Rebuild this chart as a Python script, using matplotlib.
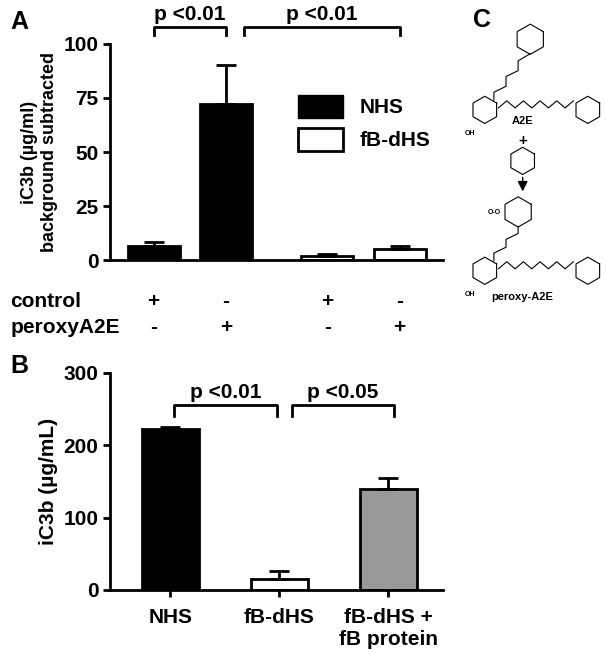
import numpy as np
from matplotlib import pyplot as plt

plt.rcParams['font.family'] = 'Liberation Sans'
plt.rcParams['font.weight'] = 'bold'
plt.rcParams['font.size'] = 15

# panel A
a_pos = [1, 2, 3.4, 4.4]
a_val = [6.5, 72, 2, 5]
a_err = [2, 18, 1, 1.5]
a_col = ['black', 'black', 'white', 'white']
a_control = ['+', '-', '+', '-']
a_peroxy = ['-', '+', '-', '+']
# panel B
b_names = ['NHS', 'fB-dHS', 'fB-dHS +\nfB protein']
b_val = [223, 15, 140]
b_err = [2, 11, 15]
b_col = ['black', 'white', '#999999']

fig = plt.figure(figsize=(6.06, 6.54), dpi=100)

def style(ax):
    for s in ['top', 'right']:
        ax.spines[s].set_visible(False)
    for s in ['left', 'bottom']:
        ax.spines[s].set_linewidth(2)
    ax.tick_params(width=2, length=5)

def bracket(ax, x1, x2, y, h, txt):
    ax.plot([x1, x1, x2, x2], [y - h, y, y, y - h], color='black', lw=2, clip_on=False)
    ax.text((x1 + x2) / 2, y + h * 0.3, txt, ha='center', va='bottom', fontsize=15, fontweight='bold')

ax = fig.add_axes([0.182, 0.602, 0.549, 0.331])
ax.bar(a_pos, a_val, width=0.72, color=a_col, edgecolor='black', lw=2)
for p, v, e in zip(a_pos, a_val, a_err):
    ax.errorbar(p, v, yerr=[[0], [e]], color='black', capsize=7, capthick=2, elinewidth=2)
ax.set_xlim(0.4, 5.0)
ax.set_ylim(0, 100)
ax.set_yticks([0, 25, 50, 75, 100])
ax.set_xticks([])
style(ax)
ax.set_ylabel('iC3b (\u00b5g/ml)\nbackground subtracted', fontsize=13, fontweight='bold')
bracket(ax, 1, 2, 108, 4, 'p <0.01')
bracket(ax, 2.25, 4.4, 108, 4, 'p <0.01')
ax.bar([0], [0], color='black', edgecolor='black', label='NHS')
ax.bar([0], [0], color='white', edgecolor='black', lw=2, label='fB-dHS')
ax.legend(loc='upper right', bbox_to_anchor=(1.02, 0.85), frameon=False, fontsize=15,
          handlelength=2.2, handleheight=1.3)
ax.text(-0.3, 1.07, 'A', transform=ax.transAxes, fontsize=18, fontweight='bold')
for p, c, q in zip(a_pos, a_control, a_peroxy):
    ax.text(p, -19, c, ha='center', va='center', fontsize=15)
    ax.text(p, -31, q, ha='center', va='center', fontsize=15)
ax.text(-0.3, -19, 'control', ha='left', va='center', fontsize=15, transform=ax.get_yaxis_transform())
ax.text(-0.3, -31, 'peroxyA2E', ha='left', va='center', fontsize=15, transform=ax.get_yaxis_transform())

bx = fig.add_axes([0.182, 0.098, 0.549, 0.332])
bpos = np.arange(len(b_names))
bx.bar(bpos, b_val, width=0.52, color=b_col, edgecolor='black', lw=2)
for p, v, e in zip(bpos, b_val, b_err):
    bx.errorbar(p, v, yerr=[[0], [e]], color='black', capsize=7, capthick=2, elinewidth=2)
bx.set_xlim(-0.55, 2.5)
bx.set_ylim(0, 300)
bx.set_yticks([0, 100, 200, 300])
bx.set_xticks(bpos)
bx.set_xticklabels(b_names, fontsize=15)
bx.tick_params(axis='x', length=0, pad=8)
style(bx)
bx.set_ylabel('iC3b (\u00b5g/mL)', fontsize=15, fontweight='bold')
bracket(bx, 0.03, 0.98, 255, 15, 'p <0.01')
bracket(bx, 1.12, 2.05, 255, 15, 'p <0.05')
bx.text(-0.3, 1.0, 'B', transform=bx.transAxes, fontsize=18, fontweight='bold')

# panel C (schematic)
cx = fig.add_axes([0.75, 0.4, 0.25, 0.6])
cx.set_xlim(0, 1)
cx.set_ylim(0, 1)
cx.axis('off')
cx.text(0.12, 0.93, 'C', fontsize=18, fontweight='bold')
k = 151 / 392

def hexagon(x, y, r):
    t = np.linspace(0, 2 * np.pi, 7) + np.pi / 6
    cx.plot(x + r * np.cos(t), y + r * k * np.sin(t), color='black', lw=0.8)

def chain(x0, y0, n, dx, dy):
    xs = x0 + dx * np.arange(n)
    ys = y0 + dy * (np.arange(n) % 2)
    cx.plot(xs, ys, color='black', lw=0.8)

hexagon(0.5, 0.9, 0.1)
chain(0.5, 0.863, 5, 0.0, 0.0)
cx.plot([0.5, 0.42, 0.42, 0.34, 0.34, 0.26, 0.26], [0.863, 0.845, 0.82, 0.805, 0.78, 0.765, 0.745], color='black', lw=0.8)
hexagon(0.2, 0.72, 0.09)
chain(0.29, 0.725, 10, 0.055, 0.018)
hexagon(0.88, 0.72, 0.09)
cx.text(0.45, 0.685, 'A2E', fontsize=8, ha='center')
cx.text(0.07, 0.655, 'OH', fontsize=5)
cx.text(0.45, 0.63, '+', fontsize=11, ha='center')
hexagon(0.45, 0.59, 0.09)
cx.annotate('', xy=(0.45, 0.505), xytext=(0.45, 0.555),
            arrowprops=dict(arrowstyle='-|>', color='black', lw=1))
hexagon(0.42, 0.46, 0.1)
cx.text(0.22, 0.455, 'O-O', fontsize=5)
cx.plot([0.42, 0.42, 0.34, 0.34, 0.26, 0.26], [0.423, 0.405, 0.39, 0.37, 0.355, 0.335], color='black', lw=0.8)
hexagon(0.2, 0.31, 0.09)
chain(0.29, 0.315, 10, 0.055, 0.018)
hexagon(0.88, 0.31, 0.09)
cx.text(0.07, 0.245, 'OH', fontsize=5)
cx.text(0.45, 0.235, 'peroxy-A2E', fontsize=8, ha='center')

fig.savefig('out.png', dpi=100)
